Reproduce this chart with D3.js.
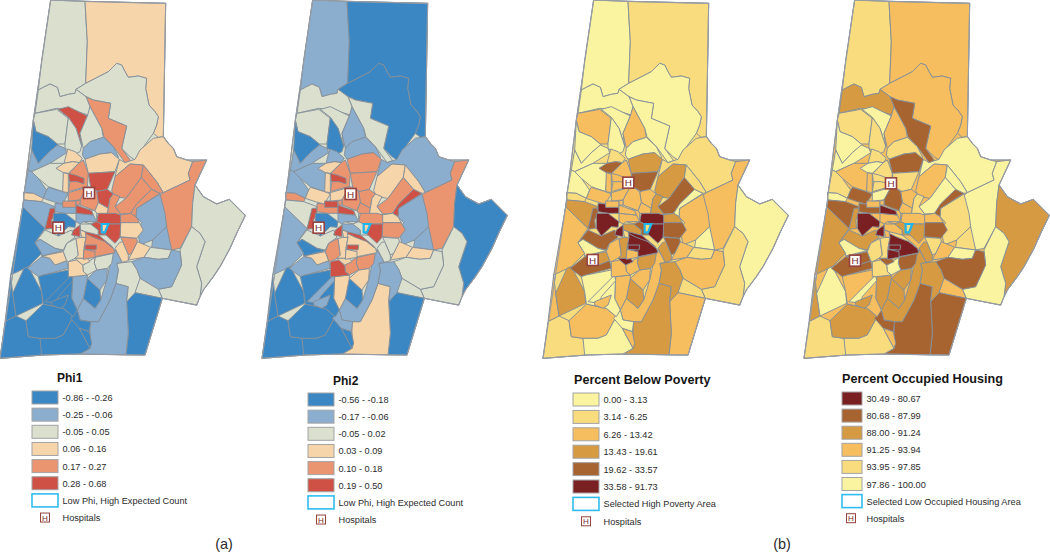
<!DOCTYPE html>
<html>
<head>
<meta charset="utf-8">
<title></title>
<script src="https://d3js.org/d3.v7.min.js"></script>
<style>
  html, body { margin: 0; background: #fff; }
  svg { display: block; }
  text { font-family: "Liberation Sans", Arial, sans-serif; fill: #2b2b2b; }
  .title { font-weight: bold; fill: #151515; }
  .tract { stroke: #858f99; stroke-width: 0.95; stroke-linejoin: round; }
  .outline { fill: none; stroke: #979ca3; stroke-width: 1.1; }
</style>
</head>
<body>
<svg width="1050" height="552"></svg>
<script>
// county outline and tract rings (map units, 780 x 1080)
var countyOutline = [[152,0],[255,4],[497,10],[490,410],[505,430],[520,445],[530,470],[560,480],[620,480],[585,555],[610,590],[650,612],[688,598],[736,646],[710,700],[690,745],[660,800],[640,830],[610,870],[600,890],[590,915],[487,895],[435,1065],[240,1062],[130,1065],[0,1075],[68,620],[100,360]];

var tractRings = [
  [[152,0],[255,4],[258,60],[262,125],[257,250],[228,268],[225,280],[205,283],[180,290],[172,262],[150,252],[130,262],[115,270],[125,180]],
  [[255,4],[497,10],[490,410],[475,412],[460,400],[470,375],[475,350],[465,335],[447,315],[437,265],[440,235],[415,228],[385,232],[375,215],[365,195],[350,190],[325,215],[300,228],[257,250],[262,125]],
  [[228,268],[257,250],[300,228],[325,215],[350,190],[365,195],[375,215],[385,232],[415,228],[440,235],[437,265],[447,315],[465,335],[475,350],[470,375],[460,400],[420,455],[405,480],[390,470],[365,445],[380,378],[325,355],[332,310],[280,300],[258,290]],
  [[258,290],[280,300],[332,310],[325,355],[380,378],[365,445],[392,482],[375,488],[355,460],[340,440],[312,410],[305,385],[270,320]],
  [[115,270],[130,262],[150,252],[172,262],[180,290],[205,283],[225,280],[228,268],[258,290],[270,320],[265,345],[215,330],[170,325],[105,340]],
  [[105,340],[170,328],[205,355],[195,432],[172,432],[145,410],[108,395],[100,360]],
  [[100,362],[108,395],[145,410],[175,435],[145,458],[115,490],[95,450]],
  [[175,328],[205,320],[262,348],[240,400],[245,438],[228,385],[205,352]],
  [[205,352],[228,385],[245,438],[240,455],[225,462],[195,445],[195,430]],
  [[262,348],[270,320],[305,385],[310,412],[270,425],[250,445],[240,400]],
  [[250,445],[270,425],[310,412],[340,440],[355,470],[355,480],[335,458],[300,462],[255,478],[247,465]],
  [[405,478],[420,450],[460,415],[490,410],[505,430],[520,445],[530,470],[560,480],[578,485],[565,520],[570,540],[490,578],[470,545],[430,495],[390,492],[345,530],[358,478],[375,488],[392,482]],
  [[578,485],[620,480],[585,555],[578,610],[575,680],[540,745],[515,750],[495,690],[475,590],[490,578],[570,540],[565,520]],
  [[585,555],[610,590],[650,612],[688,598],[736,646],[710,700],[690,745],[660,800],[640,830],[610,870],[600,890],[605,850],[590,800],[615,725],[600,700],[575,680],[578,610]],
  [[575,680],[600,700],[615,725],[590,800],[605,850],[600,890],[590,915],[487,895],[475,868],[515,860],[545,795],[540,750]],
  [[408,650],[410,625],[480,582],[495,640],[500,680],[458,720],[420,735],[412,690],[425,668]],
  [[458,720],[500,680],[515,750],[455,742]],
  [[385,780],[412,725],[452,742],[432,772]],
  [[432,772],[452,742],[515,750],[505,775],[475,778]],
  [[395,785],[432,772],[475,778],[505,775],[515,750],[540,755],[545,795],[515,860],[475,868],[420,835],[410,808]],
  [[405,850],[420,835],[475,868],[487,895],[405,878]],
  [[380,905],[405,878],[487,895],[435,1065],[378,1065],[385,1000]],
  [[348,850],[385,860],[380,905],[385,1000],[378,1065],[240,1062],[270,1045],[270,965],[295,965],[330,900]],
  [[350,790],[395,785],[410,808],[420,835],[405,878],[380,905],[385,860],[348,850],[355,810]],
  [[232,930],[250,895],[285,925],[302,900],[320,840],[335,770],[345,748],[367,787],[350,790],[355,810],[348,850],[330,900],[295,965],[270,965],[240,960]],
  [[262,835],[300,870],[302,900],[285,925],[250,895]],
  [[262,835],[290,810],[322,805],[320,840],[300,870]],
  [[218,830],[262,825],[262,835],[250,895],[232,930],[215,895]],
  [[68,620],[135,685],[105,728],[125,760],[85,800],[32,825]],
  [[32,825],[15,965],[48,948],[38,880]],
  [[38,880],[72,805],[85,800],[125,875],[128,910],[48,948]],
  [[15,965],[48,948],[78,962],[85,1010],[120,1015],[130,1065],[0,1075]],
  [[78,962],[130,912],[190,925],[220,950],[190,1005],[165,1015],[120,1015],[85,1010]],
  [[125,1065],[120,1015],[165,1015],[190,1005],[220,950],[238,985],[270,1045],[240,1062]],
  [[212,955],[232,930],[240,960],[272,965],[268,995],[238,985]],
  [[238,985],[268,995],[275,1030],[270,1045]],
  [[82,805],[125,770],[150,775],[165,795],[200,782],[205,805],[130,825],[115,830]],
  [[125,768],[190,755],[200,782],[165,795],[150,775]],
  [[135,690],[175,708],[215,690],[225,712],[200,730],[190,750],[165,745],[120,718],[105,728]],
  [[105,728],[120,718],[165,745],[190,752],[125,768],[125,760]],
  [[115,830],[130,825],[205,810],[218,830],[215,895],[232,930],[220,950],[190,925],[130,912],[125,875]],
  [[135,905],[215,825],[218,842],[175,890],[170,910]],
  [[155,905],[205,885],[195,915],[180,925],[155,915]],
  [[95,450],[115,490],[145,458],[172,435],[195,445],[200,458],[150,490],[95,515],[85,510]],
  [[95,515],[150,490],[195,490],[188,575],[145,560],[115,535]],
  [[85,510],[95,515],[115,535],[140,570],[130,595],[100,580],[72,578]],
  [[140,570],[145,562],[188,575],[205,582],[187,612],[160,605],[130,595]],
  [[70,578],[100,580],[130,595],[125,605],[72,600]],
  [[68,620],[72,600],[125,605],[165,620],[150,640],[135,685]],
  [[150,625],[165,625],[165,640],[155,660],[158,685],[135,688]],
  [[165,610],[187,612],[205,603],[228,603],[228,640],[195,640],[165,635]],
  [[160,640],[195,640],[228,665],[225,682],[205,680],[175,708],[160,685]],
  [[188,603],[228,603],[228,622],[188,622]],
  [[192,490],[200,460],[203,447],[225,455],[247,475],[238,488],[218,485]],
  [[168,505],[192,490],[218,485],[238,488],[205,520],[190,518]],
  [[205,522],[238,488],[250,480],[265,520],[262,560],[240,565],[205,575],[210,545]],
  [[205,520],[225,525],[252,535],[252,552],[232,545],[208,545]],
  [[255,478],[300,462],[335,458],[358,478],[345,515],[265,520]],
  [[265,520],[345,515],[322,568],[295,575],[272,562]],
  [[290,575],[322,568],[340,582],[330,595],[325,625],[295,608]],
  [[205,578],[240,568],[262,560],[240,600],[205,603]],
  [[262,560],[272,562],[290,575],[295,608],[285,632],[240,615],[240,600]],
  [[295,608],[325,625],[322,645],[290,640],[285,632]],
  [[345,530],[390,492],[430,495],[424,532],[378,595],[345,590],[335,572]],
  [[424,532],[455,568],[410,612],[392,640],[362,642],[345,620],[378,595]],
  [[455,568],[480,580],[410,625],[408,650],[392,640],[410,612]],
  [[340,582],[360,590],[345,620],[362,642],[340,650],[322,645],[325,625],[330,595]],
  [[358,645],[392,640],[408,650],[418,668],[362,668]],
  [[362,668],[418,668],[430,690],[410,715],[360,710]],
  [[295,640],[345,640],[362,645],[362,672],[325,672],[305,672],[290,665]],
  [[325,672],[362,672],[360,712],[345,730],[318,705],[311,700]],
  [[362,712],[410,715],[412,725],[395,760],[385,765],[368,725]],
  [[345,745],[358,728],[368,725],[385,765],[385,782],[367,787]],
  [[285,772],[340,760],[335,790],[322,805],[290,810],[283,790]],
  [[248,795],[285,772],[283,790],[290,810],[262,825],[250,815]],
  [[205,830],[205,785],[230,780],[248,795],[250,815],[262,825],[218,830]],
  [[190,755],[200,730],[228,715],[235,765],[225,775],[205,785],[200,782]],
  [[228,715],[245,712],[258,712],[252,745],[250,775],[225,775],[235,765]],
  [[225,775],[250,775],[262,775],[270,785],[248,795],[230,780]],
  [[250,700],[295,705],[315,725],[340,745],[345,758],[285,770],[252,745],[258,712]],
  [[252,748],[285,755],[285,772],[250,778]],
  [[255,735],[290,735],[288,750],[255,748]],
  [[255,690],[295,705],[335,738],[340,745],[315,725],[280,712],[255,700]],
  [[250,625],[285,632],[290,640],[290,665],[272,672],[250,665]],
  [[228,640],[280,645],[290,665],[250,665],[240,672],[228,665]],
  [[240,672],[272,672],[295,690],[295,705],[255,695],[242,690]],
  [[240,690],[255,695],[258,712],[245,712]],
  [[220,690],[240,675],[240,710],[215,705]],
  [[228,615],[275,632],[280,645],[228,640]],
  [[228,603],[240,600],[240,615],[228,615]],
  [[205,522],[190,518],[188,575],[205,578]],
  [[430,495],[470,545],[490,578],[480,580],[455,568],[424,532]],
  [[290,665],[305,672],[305,697],[318,705],[295,705],[295,690],[272,672]]
];

// class of each tract on each map, same order as tractRings (index into the legend)
var phi1Class =    [2,3,2,4,2,2,0,5,2,2,1,3,4,2,2,1,1,3,2,1,2,0,1,2,1,0,1,1,0,0,0,0,0,0,0,0,1,3,2,1,0,0,0,1,2,1,1,3,1,5,1,0,4,3,3,4,5,3,5,5,4,4,3,4,4,4,4,4,3,5,5,4,3,2,2,3,2,3,3,4,4,5,5,2,1,2,3,5,5,4,3,4,5];
var phi2Class =    [1,0,0,2,2,2,0,2,0,1,1,1,4,0,2,1,1,3,3,2,2,0,3,1,1,0,3,3,1,0,0,0,0,0,1,0,1,3,2,0,0,1,1,1,1,1,3,4,2,5,4,0,5,1,3,4,5,4,4,4,3,4,4,3,4,5,3,3,4,4,5,2,2,4,4,5,4,3,3,3,3,5,5,2,1,1,3,5,5,4,3,3,2];
var povertyClass = [0,1,0,0,0,2,0,0,0,2,0,1,2,0,1,2,0,2,1,2,1,2,3,3,2,3,2,2,2,2,3,1,2,0,0,2,4,3,4,0,0,0,2,0,0,0,2,1,3,4,5,5,2,1,4,2,2,3,4,2,2,2,2,3,4,0,3,3,4,5,5,4,3,3,2,2,2,3,5,5,2,5,5,2,2,3,1,5,2,2,2,1,4];
var occupiedClass = [4,3,3,1,2,4,5,5,4,3,4,5,5,2,5,4,4,3,5,1,3,1,1,2,2,2,2,2,2,2,5,4,2,4,1,3,1,1,2,5,3,5,2,5,3,4,1,5,1,2,1,0,3,4,5,4,4,1,4,3,5,1,3,3,5,1,4,3,1,3,2,4,2,1,5,4,4,4,1,0,0,0,4,3,3,3,3,0,0,3,3,5,2];

var selectedRing = [[305,672],[325,672],[315,697],[305,697]];
var selectedClass = [3, 3, 1, 4];

var hospitalsPhi1 = [[267,579],[175,683]];
var hospitalsPhi2 = [[266,582],[170,683]];
var hospitalsPoverty = [[256,548],[149,780]];
var hospitalsOccupied = [[261,550],[153,782]];

var phiColors = ["#3a87c4", "#8badce", "#dadfce", "#f7d5aa", "#eb9470", "#cf5044"];
var povertyColors = ["#faf3a0", "#f8dc7e", "#f6be5e", "#d69a42", "#a76330", "#7a1f22"];
var occupiedColors = ["#7a1f22", "#a76330", "#d69a42", "#f6be5e", "#f8dc7e", "#faf3a0"];

var phi1Labels = ["-0.86 - -0.26", "-0.25 - -0.06", "-0.05 - 0.05", "0.06 - 0.16", "0.17 - 0.27", "0.28 - 0.68"];
var phi2Labels = ["-0.56 - -0.18", "-0.17 - -0.06", "-0.05 - 0.02", "0.03 - 0.09", "0.10 - 0.18", "0.19 - 0.50"];
var povertyLabels = ["0.00 - 3.13", "3.14 - 6.25", "6.26 - 13.42", "13.43 - 19.61", "19.62 - 33.57", "33.58 - 91.73"];
var occupiedLabels = ["30.49 - 80.67", "80.68 - 87.99", "88.00 - 91.24", "91.25 - 93.94", "93.95 - 97.85", "97.86 - 100.00"];

var svg = d3.select("svg");

var panels = [
  {title: "Phi1", classes: phi1Class, colors: phiColors, labels: phi1Labels, hospitals: hospitalsPhi1, sel: 0,
   selLabel: "Low Phi, High Expected Count", left: 0, lx: 32, ly: 391, lw: 26, lh: 13, step: 17.15, tx: 57, ty: 382, hx: 45},
  {title: "Phi2", classes: phi2Class, colors: phiColors, labels: phi2Labels, hospitals: hospitalsPhi2, sel: 1,
   selLabel: "Low Phi, High Expected Count", left: 262, lx: 308, ly: 393, lw: 26, lh: 13, step: 17.15, tx: 333, ty: 385, hx: 321},
  {title: "Percent Below Poverty", classes: povertyClass, colors: povertyColors, labels: povertyLabels, hospitals: hospitalsPoverty, sel: 2,
   selLabel: "Selected High Poverty Area", left: 543, lx: 573, ly: 393, lw: 26, lh: 13, step: 17.4, tx: 574, ty: 384, hx: 586},
  {title: "Percent Occupied Housing", classes: occupiedClass, colors: occupiedColors, labels: occupiedLabels, hospitals: hospitalsOccupied, sel: 3,
   selLabel: "Selected Low Occupied Housing Area", left: 804, lx: 842, ly: 392, lw: 20, lh: 13, step: 17.1, tx: 842, ty: 383, hx: 851}
];

var y = d3.scaleLinear().domain([0, 1080]).range([0, 360]);

function drawHospital(g, cx, cy, size, sw) {
  g.append("rect").attr("x", cx - size / 2).attr("y", cy - size / 2).attr("width", size).attr("height", size)
    .attr("fill", "#fff").attr("stroke", "#96423f").attr("stroke-width", sw);
  g.append("text").attr("x", cx).attr("y", cy + size * 0.33).attr("text-anchor", "middle")
    .attr("font-size", size * 0.9).style("fill", "#7c2a2a").text("H");
}

panels.forEach(function(p) {
  var x = d3.scaleLinear().domain([0, 780]).range([p.left, p.left + 260]);
  var path = d3.line().x(function(d) { return x(d[0]); }).y(function(d) { return y(d[1]); });
  var color = d3.scaleOrdinal().domain(d3.range(6)).range(p.colors);
  var g = svg.append("g");

  g.append("path").attr("class", "tract")
    .attr("d", path(countyOutline) + "Z").attr("fill", color(p.sel === 3 ? 3 : (p.sel === 2 ? 1 : 2)));

  g.selectAll("path.cell").data(tractRings).enter().append("path")
    .attr("class", "tract cell")
    .attr("d", function(d) { return path(d) + "Z"; })
    .attr("fill", function(d, i) { return color(p.classes[i]); });

  g.append("path").attr("class", "outline").attr("d", path(countyOutline) + "Z");

  g.append("path").attr("d", path(selectedRing) + "Z")
    .attr("fill", color(selectedClass[p.sel]))
    .attr("stroke", "#1eb4ee").attr("stroke-width", 2.2);

  p.hospitals.forEach(function(h) {
    drawHospital(g, x(h[0]), y(h[1]), 11, 1.6);
  });

  // legend
  var l = svg.append("g");
  l.append("text").attr("class", "title").attr("x", p.tx).attr("y", p.ty)
    .attr("font-size", p.sel < 2 ? 12 : 12.6).text(p.title);
  p.labels.forEach(function(t, i) {
    var ry = p.ly + i * p.step;
    l.append("rect").attr("x", p.lx).attr("y", ry).attr("width", p.lw).attr("height", p.lh)
      .attr("fill", color(i)).attr("stroke", "#a3a3a3").attr("stroke-width", 1);
    l.append("text").attr("x", p.lx + p.lw + 4.5).attr("y", ry + 10).attr("font-size", 9.2).text(t);
  });
  var sy = p.ly + 6 * p.step;
  l.append("rect").attr("x", p.lx).attr("y", sy).attr("width", p.lw).attr("height", p.lh)
    .attr("fill", "#fff").attr("stroke", "#2fbdf0").attr("stroke-width", 1.6);
  l.append("text").attr("x", p.lx + p.lw + 4.5).attr("y", sy + 10).attr("font-size", 9.2).text(p.selLabel);
  var hy = p.ly + 7 * p.step;
  drawHospital(l, p.hx, hy + 6.5, 9, 1);
  l.append("text").attr("x", p.lx + p.lw + 4.5).attr("y", hy + 10).attr("font-size", 9.2).text("Hospitals");
});

svg.append("text").attr("x", 224).attr("y", 549).attr("text-anchor", "middle").attr("font-size", 14.5).text("(a)");
svg.append("text").attr("x", 782).attr("y", 549).attr("text-anchor", "middle").attr("font-size", 14.5).text("(b)");
</script>
</body>
</html>
